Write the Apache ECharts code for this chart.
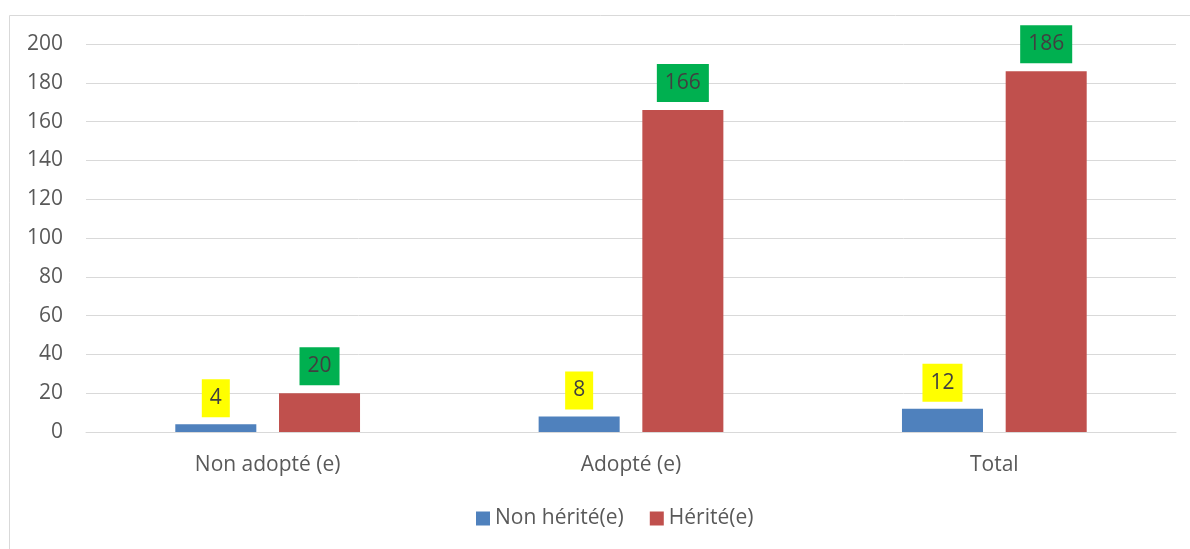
<!DOCTYPE html>
<html>
<head>
<meta charset="utf-8">
<script src="https://cdn.jsdelivr.net/npm/echarts@6/dist/echarts.min.js"></script>
<style>
  html, body { margin: 0; padding: 0; background: #fff; }
  #chart { width: 1190px; height: 549px; }
</style>
</head>
<body>
<div id="chart"></div>
<script>
const categories = ['Non adopté (e)', 'Adopté (e)', 'Total'];
const nonHerite = [4, 8, 12];
const herite = [20, 166, 186];

const font = '"Open Sans", "Noto Sans", sans-serif';

let myChart = echarts.init(document.getElementById('chart'), null, { renderer: 'canvas' });

let option = {
  animation: false,
  textStyle: { fontFamily: font },
  graphic: [
    {
      type: 'rect',
      shape: { x: 9.5, y: 15.5, width: 1200, height: 600 },
      style: { fill: 'none', stroke: '#D9D9D9', lineWidth: 1 },
    },
  ],
  legend: {
    bottom: 15,
    left: 471,
    itemWidth: 14,
    itemHeight: 14,
    itemGap: 26,
    icon: 'rect',
    textStyle: { fontSize: 21, color: '#595959', fontFamily: font },
    data: ['Non hérité(e)', 'Hérité(e)'],
  },
  grid: {
    top: 44,
    left: 86,
    right: 14,
    bottom: 117,
  },
  xAxis: {
    type: 'category',
    data: categories,
    axisTick: { show: false },
    axisLine: { show: true, lineStyle: { color: '#D9D9D9', width: 1 } },
    axisLabel: { color: '#595959', fontSize: 21, margin: 23, fontFamily: font },
  },
  yAxis: {
    type: 'value',
    min: 0,
    max: 200,
    interval: 20,
    axisLine: { show: false },
    axisTick: { show: false },
    axisLabel: { color: '#595959', fontSize: 21, margin: 23, fontFamily: font },
    splitLine: { lineStyle: { color: '#D9D9D9', width: 1 } },
  },
  series: [
    {
      name: 'Non hérité(e)',
      type: 'bar',
      data: nonHerite,
      barWidth: '22.3%',
      barGap: '28%',
      itemStyle: { color: '#4F81BD' },
      label: {
        show: true,
        position: 'top',
        distance: 7,
        color: '#404040',
        fontSize: 21,
        lineHeight: 22,
        backgroundColor: '#FFFF00',
        padding: [8, 8],
        fontFamily: font,
      },
    },
    {
      name: 'Hérité(e)',
      type: 'bar',
      data: herite,
      barWidth: '22.3%',
      itemStyle: { color: '#C0504D' },
      label: {
        show: true,
        position: 'top',
        distance: 8,
        color: '#404040',
        fontSize: 21,
        lineHeight: 22,
        backgroundColor: '#00B050',
        padding: [8, 8],
        fontFamily: font,
      },
    },
  ],
};

myChart.setOption(option, true);
</script>
</body>
</html>
